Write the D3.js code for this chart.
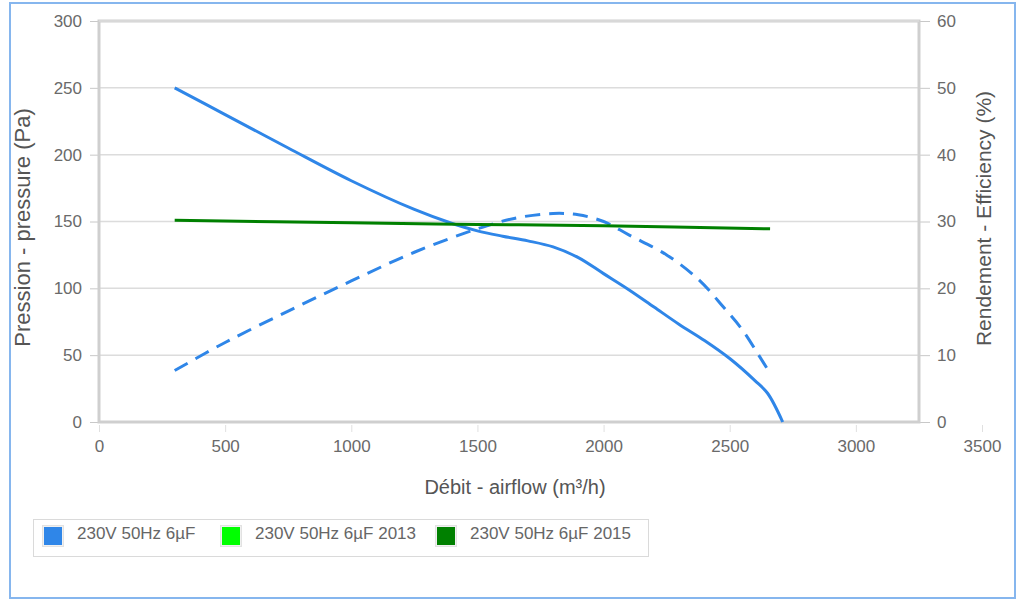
<!DOCTYPE html>
<html>
<head>
    <meta charset="utf-8">
    <title>Courbe ventilateur</title>
    <script src="https://d3js.org/d3.v7.min.js"></script>
    <style>
        body { margin: 0; background: #fff; }
        text { font-family: "Liberation Sans", Arial, sans-serif; }
    </style>
</head>
<body>
    <div id="container"></div>
    <script>
        const width = 1023;
        const height = 601;

        // airflow (m3/h) -> pressure (Pa), left axis
        const pressureX = [300, 500, 750, 1000, 1250, 1400, 1500, 1600, 1700, 1800, 1900, 2000, 2100, 2200, 2300, 2400, 2500, 2600, 2650, 2710];
        const pressureY = [250, 230, 205, 180.5, 159, 148.5, 143, 139, 135.5, 131, 123, 111, 99, 86, 73, 61, 47.5, 31, 21.5, 0];

        // airflow -> efficiency (%), right axis
        const effX = [300, 500, 750, 1000, 1250, 1500, 1650, 1800, 1900, 2000, 2100, 2250, 2380, 2475, 2550, 2620, 2665];
        const effY = [7.7, 11.9, 16.6, 21.1, 25.4, 28.9, 30.5, 31.2, 31, 30, 28, 25, 21.2, 17.2, 13.8, 9.7, 7];

        // 2015 series, left axis
        const p2015X = [300, 1000, 1500, 2000, 2660];
        const p2015Y = [151, 149, 147.8, 146.8, 144.5];

        const xTicks = [0, 500, 1000, 1500, 2000, 2500, 3000, 3500];
        const yTicks = [0, 50, 100, 150, 200, 250, 300];
        const effTicks = [0, 10, 20, 30, 40, 50, 60];

        const legendNames = ["230V 50Hz 6µF", "230V 50Hz 6µF 2013", "230V 50Hz 6µF 2015"];
        const legendColors = ["#2f86e8", "#00ff00", "#008000"];

        const plot = { left: 99, right: 919, top: 21, bottom: 422 };

        const x = d3.scaleLinear().domain([0, 3500]).range([99, 982]);
        const y = d3.scaleLinear().domain([0, 300]).range([plot.bottom, plot.top]);
        const yEff = d3.scaleLinear().domain([0, 60]).range([plot.bottom, plot.top]);

        const svg = d3.select("#container").append("svg")
            .attr("width", width)
            .attr("height", height);

        // outer border
        svg.append("rect")
            .attr("x", 10).attr("y", 3)
            .attr("width", 1005).attr("height", 595)
            .attr("fill", "none")
            .attr("stroke", "#86b6ee")
            .attr("stroke-width", 2);

        // grid
        svg.append("g").selectAll("line")
            .data(yTicks)
            .join("line")
            .attr("x1", plot.left).attr("x2", plot.right)
            .attr("y1", d => y(d)).attr("y2", d => y(d))
            .attr("stroke", "#dcdcdc")
            .attr("stroke-width", 1.5);

        const fmt = d3.format("d");

        // left axis
        const gl = svg.append("g")
            .attr("transform", `translate(${plot.left},0)`)
            .call(d3.axisLeft(y).tickValues(yTicks).tickFormat(fmt).tickSize(9).tickPadding(8));
        gl.select(".domain").remove();

        // right axis
        const gr = svg.append("g")
            .attr("transform", `translate(${plot.right},0)`)
            .call(d3.axisRight(yEff).tickValues(effTicks).tickFormat(fmt).tickSize(11).tickPadding(7));
        gr.select(".domain").remove();

        // bottom axis
        const gb = svg.append("g")
            .attr("transform", `translate(0,${plot.bottom})`)
            .call(d3.axisBottom(x).tickValues(xTicks).tickFormat(fmt).tickSize(10).tickPadding(8));
        gb.select(".domain").remove();
        gb.selectAll(".tick line").attr("stroke", "#e0e0e0").attr("y1", 3);

        [gl, gr].forEach(g => g.selectAll(".tick line").attr("stroke", "#c8c8c8"));
        [gl, gr, gb].forEach(g => g.selectAll(".tick text")
            .attr("fill", "#6a6a6a")
            .style("font-size", "17px"));

        // frame
        svg.append("path")
            .attr("d", `M${plot.left},${plot.bottom}V${plot.top}H${plot.right}V${plot.bottom}Z`)
            .attr("fill", "none")
            .attr("stroke", "#cfcfcf")
            .attr("stroke-width", 3);
        svg.append("line")
            .attr("x1", plot.left).attr("x2", plot.right)
            .attr("y1", plot.top).attr("y2", plot.top)
            .attr("stroke", "#d8d8d8").attr("stroke-width", 2);

        // axis titles
        svg.append("text")
            .attr("transform", `translate(30,${(plot.top + plot.bottom) / 2 + 6}) rotate(-90)`)
            .attr("text-anchor", "middle")
            .attr("fill", "#555")
            .style("font-size", "22px")
            .text("Pression - pressure (Pa)");

        svg.append("text")
            .attr("transform", `translate(991,${(plot.top + plot.bottom) / 2 - 3}) rotate(-90)`)
            .attr("text-anchor", "middle")
            .attr("fill", "#555")
            .style("font-size", "21px")
            .text("Rendement - Efficiency (%)");

        svg.append("text")
            .attr("x", 515).attr("y", 494)
            .attr("text-anchor", "middle")
            .attr("fill", "#555")
            .style("font-size", "20px")
            .text("Débit - airflow (m³/h)");

        // curves
        const line = d3.line().curve(d3.curveCatmullRom.alpha(0.5));
        const curves = svg.append("g");

        curves.append("path")
            .datum(pressureX.map((d, i) => [x(d), y(pressureY[i])]))
            .attr("fill", "none")
            .attr("stroke", legendColors[0])
            .attr("stroke-width", 3)
            .attr("d", line);

        curves.append("path")
            .datum(effX.map((d, i) => [x(d), yEff(effY[i])]))
            .attr("fill", "none")
            .attr("stroke", legendColors[0])
            .attr("stroke-width", 3)
            .attr("stroke-dasharray", "15,9")
            .attr("d", line);

        curves.append("path")
            .datum(p2015X.map((d, i) => [x(d), y(p2015Y[i])]))
            .attr("fill", "none")
            .attr("stroke", legendColors[2])
            .attr("stroke-width", 3)
            .attr("d", line);

        // legend
        const legend = svg.append("g");
        legend.append("rect")
            .attr("x", 33.5).attr("y", 519.5)
            .attr("width", 615).attr("height", 37)
            .attr("fill", "#fff")
            .attr("stroke", "#dadada");

        const legendX = [44, 222, 437];
        const item = legend.selectAll("g.item")
            .data(legendNames)
            .join("g")
            .attr("class", "item")
            .attr("transform", (d, i) => `translate(${legendX[i]},527)`);

        item.append("rect")
            .attr("x", -1.5).attr("y", -1.5)
            .attr("width", 21).attr("height", 21)
            .attr("fill", "#f0f0f0")
            .attr("stroke", "#e2e2e2");
        item.append("rect")
            .attr("width", 18).attr("height", 18)
            .attr("fill", (d, i) => legendColors[i]);
        item.append("text")
            .attr("x", 33).attr("y", 12)
            .attr("fill", "#666")
            .style("font-size", "17px")
            .text(d => d);
    </script>
</body>
</html>
